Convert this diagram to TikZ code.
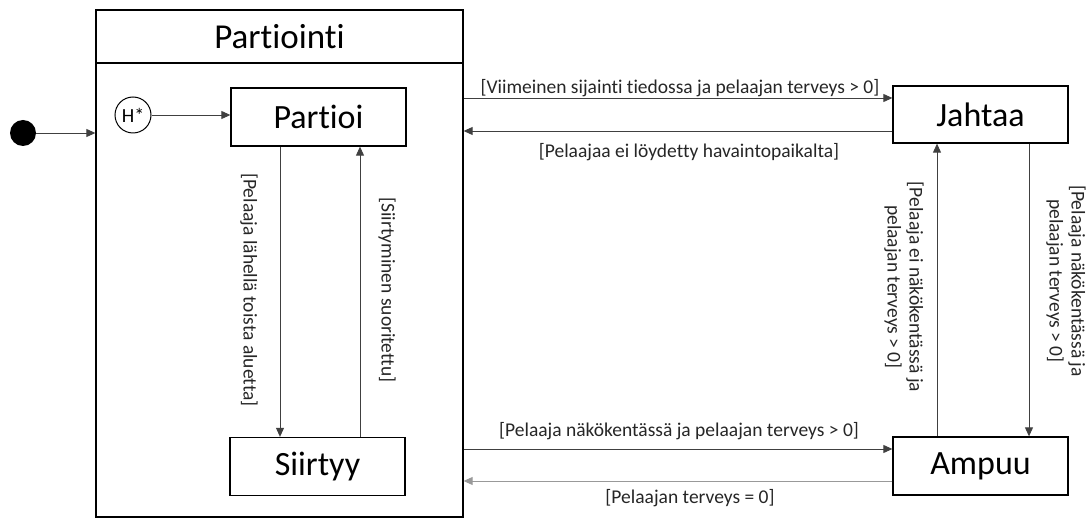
\documentclass[tikz,border=0pt]{standalone}
\usepackage{fontspec}
\setmainfont{Carlito}[Ligatures={NoCommon}]
\usetikzlibrary{arrows.meta,calc}
\begin{document}
\begin{tikzpicture}[x=1pt,y=-1pt,
 state/.style={draw=black,line width=1.3pt,minimum width=175pt,minimum height=58pt,inner sep=0pt,font=\fontsize{34}{38}\selectfont},
 conn/.style={draw=black!75,line width=0.9pt,-{Triangle[length=9pt,width=8pt]}},
 lightconn/.style={conn,draw=black!40},
 lbl/.style={font=\fontsize{19.5}{22}\selectfont,inner sep=0pt,text=black!85},
]
\useasboundingbox (0,0) rectangle (1092,518);
\node[draw,line width=1.3pt,minimum width=367pt,minimum height=507pt,inner sep=0pt] (outer) at (279.5,263.5) {};
\coordinate (hl) at (96,63);
\draw[line width=1.3pt] (hl) -- (hl -| outer.east);
\node[font=\fontsize{35}{38}\selectfont] (title) at (279.5,37) {Partiointi};
\node[circle,fill=black,minimum size=26pt,inner sep=0pt] (init) at (23,133) {};
\node[circle,draw,line width=1pt,minimum size=36pt,inner sep=0pt,font=\fontsize{20}{22}\selectfont] (hist) at (133,115) {H*};
\node[state] (partioi) at (318.5,117) {Partioi};
\node[state] (siirtyy) at (317.5,466.5) {Siirtyy};
\node[state,minimum height=57pt] (jahtaa) at (980.5,114.5) {Jahtaa};
\node[state] (ampuu) at (980.5,466) {Ampuu};
% connectors
\draw[conn] (init) -- (init -| outer.west);
\draw[conn] (hist.east) -- (hist.east -| partioi.west);
\draw[conn] (partioi.south -| 280,0) -- (siirtyy.north -| 280,0);
\draw[conn] (siirtyy.north -| 360,0) -- (partioi.south -| 360,0);
\draw[conn] (outer.east |- 0,98) -- (jahtaa.west |- 0,98);
\draw[conn] (jahtaa.west |- 0,131) -- (outer.east |- 0,131);
\draw[conn] (outer.east |- 0,449) -- (ampuu.west |- 0,449);
\draw[lightconn] (ampuu.west |- 0,481) -- (outer.east |- 0,481);
\draw[conn] (ampuu.north -| 937,0) -- (jahtaa.south -| 937,0);
\draw[conn] (jahtaa.south -| 1029,0) -- (ampuu.north -| 1029,0);
% labels
\node[lbl] (l1) at (680,88) {[Viimeinen sijainti tiedossa ja pelaajan terveys > 0]};
\node[lbl] (l2) at (689,152) {[Pelaajaa ei löydetty havaintopaikalta]};
\node[lbl] (l3) at (679,431) {[Pelaaja näkökentässä ja pelaajan terveys > 0]};
\node[lbl] (l4) at (690,498) {[Pelaajan terveys = 0]};
\node[lbl,rotate=-90] (l5) at (249,290) {[Pelaaja lähellä toista aluetta]};
\node[lbl,rotate=-90] (l6) at (387,290) {[Siirtyminen suoritettu]};
\node[lbl,rotate=-90,align=center] (l7) at (904,287) {[Pelaaja ei näkökentässä ja\\pelaajan terveys > 0]};
\node[lbl,rotate=-90,align=center] (l8) at (1066,281) {[Pelaaja näkökentässä ja\\pelaajan terveys > 0]};
\end{tikzpicture}
\end{document}
